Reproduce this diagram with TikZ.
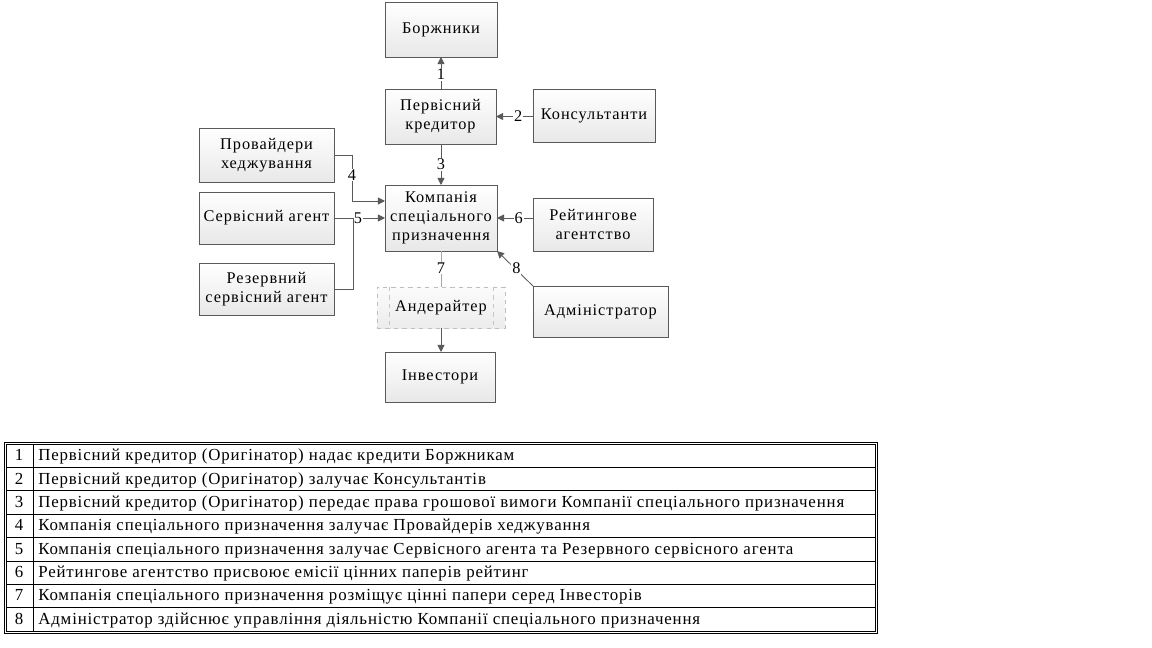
\documentclass[tikz,border=0pt]{standalone}
\usepackage{fontspec}
\setmainfont{Liberation Serif}
\newfontfamily\boxfont[LetterSpace=6]{Liberation Serif}
\newfontfamily\tabfont[LetterSpace=5]{Liberation Serif}
\usetikzlibrary{arrows.meta,shadows,calc}
\definecolor{edge}{HTML}{5A5A5A}
\tikzset{
  box/.style={draw=edge, line width=0.6pt, top color=white, bottom color=gray!18,
    align=center, inner sep=0pt, outer sep=0pt,
    font=\boxfont\fontsize{11.6}{13.5}\selectfont,
    drop shadow={shadow xshift=0.6pt, shadow yshift=-0.6pt, fill=gray!40, opacity=0.6}},
  ghost/.style={draw=gray!50, dashed, line width=0.4pt, top color=gray!3, bottom color=gray!15,
    align=center, inner sep=0pt, outer sep=0pt, font=\boxfont\fontsize{11.6}{13.5}\selectfont},
  conn/.style={draw=edge, line width=0.6pt},
  arr/.style={conn, -{Triangle[length=5pt,width=5pt]}},
  lbl/.style={fill=white, inner sep=0.6pt, font=\fontsize{11.6}{12}\selectfont},
  tbl/.style={font=\tabfont\fontsize{12}{12}\selectfont, inner sep=0pt, anchor=base west},
  num/.style={font=\tabfont\fontsize{12}{12}\selectfont, inner sep=0pt, anchor=base},
}
\begin{document}
\begin{tikzpicture}[x=0.025cm,y=-0.025cm]
\useasboundingbox (0,0) rectangle (1152,648);
% boxes
\node[box, minimum width=2.8cm, minimum height=1.375cm] (bor) at (441,29.5) {Боржники};
\node[box, minimum width=2.775cm, minimum height=1.375cm] (perv) at (440.5,116.5) {Первісний\\кредитор};
\node[box, minimum width=3.05cm, minimum height=1.325cm] (kons) at (594,115.5) {Консультанти};
\node[box, minimum width=3.375cm, minimum height=1.35cm] (prov) at (266.5,155) {Провайдери\\хеджування};
\node[box, minimum width=3.375cm, minimum height=1.3cm] (serv) at (266.5,218) {Сервісний агент};
\node[box, minimum width=3.375cm, minimum height=1.3cm] (rez) at (266.5,289) {Резервний\\сервісний агент};
\node[box, minimum width=2.8cm, minimum height=1.65cm] (komp) at (441,218) {Компанія\\спеціального\\призначення};
\node[box, minimum width=3.0cm, minimum height=1.325cm] (reit) at (593,224.5) {Рейтингове\\агентство};
\node[ghost, minimum width=3.2cm, minimum height=1.025cm] (and) at (441,307.5) {Андерайтер};
\draw[gray!45, dashed, line width=0.4pt] ($(and.north west)+(12,0)$) -- ($(and.south west)+(12,0)$)
  ($(and.north east)+(-12,0)$) -- ($(and.south east)+(-12,0)$);
\node[box, minimum width=2.75cm, minimum height=1.25cm] (inv) at (440,377) {Інвестори};
\node[box, minimum width=3.375cm, minimum height=1.275cm] (adm) at (600.5,311.5) {Адміністратор};
% connectors
\draw[arr] (perv.north -| bor.south) -- node[lbl, pos=0.45]{1} (bor.south);
\draw[arr] (kons.west |- perv.east) -- node[lbl, pos=0.4]{2} (perv.east);
\draw[arr] (perv.south -| komp.north) -- node[lbl, pos=0.5]{3} (komp.north);
\coordinate (j4) at (352,201);
\coordinate (j5) at (353,218);
\draw[arr] (prov.east) -| node[lbl, pos=0.72]{4} (j4) -- (j4 -| komp.west);
\draw[arr] (serv.east) -- node[lbl, pos=0.47]{5} (serv.east -| komp.west);
\draw[conn] (rez.east) -| (j5);
\draw[arr] (reit.west |- komp.east) -- node[lbl, pos=0.4]{6} (komp.east);
\draw[conn, draw=gray!70] (komp.south) -- node[lbl, pos=0.47]{7} (komp.south |- and.north);
\draw[arr] (and.south) -- (and.south |- inv.north);
\draw[arr] (adm.north west) -- node[lbl, pos=0.5, xshift=1pt]{8} (komp.south east);
% table
\draw[black, line width=0.5pt] (4,442) rectangle (877,633);
\draw[black, line width=0.5pt] (6,444) rectangle (875,631);
\foreach \k in {1,...,7} {\draw[black, line width=0.5pt] (6,{444+\k*23.375}) -- (875,{444+\k*23.375});}
\draw[black, line width=0.5pt] (33,444) -- (33,631);
\foreach \k/\t in {
 1/{Первісний кредитор (Оригінатор) надає кредити Боржникам},
 2/{Первісний кредитор (Оригінатор) залучає Консультантів},
 3/{Первісний кредитор (Оригінатор) передає права грошової вимоги Компанії спеціального призначення},
 4/{Компанія спеціального призначення залучає Провайдерів хеджування},
 5/{Компанія спеціального призначення залучає Сервісного агента та Резервного сервісного агента},
 6/{Рейтингове агентство присвоює емісії цінних паперів рейтинг},
 7/{Компанія спеціального призначення розміщує цінні папери серед Інвесторів},
 8/{Адміністратор здійснює управління діяльністю Компанії спеціального призначення}} {
  \node[num] (n\k) at (19,{444+(\k-0.5)*23.375+5}) {\k};
  \node[tbl] (t\k) at (38,{444+(\k-0.5)*23.375+5}) {\t};
}
\end{tikzpicture}
\end{document}
